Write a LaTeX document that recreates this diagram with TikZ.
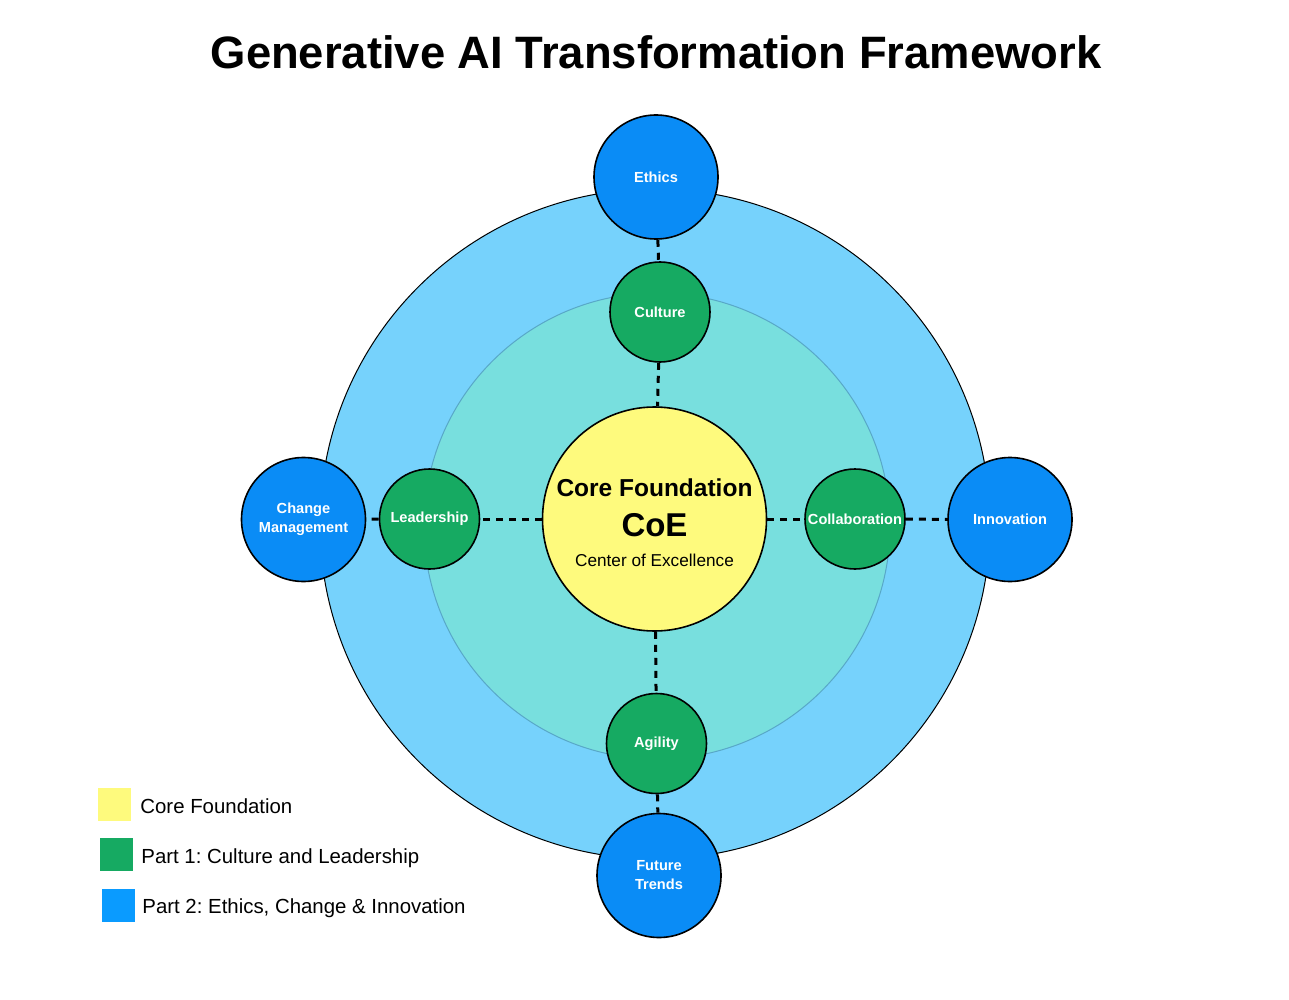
\documentclass[tikz,border=0pt]{standalone}
\usepackage{fontspec}
\setmainfont{Liberation Sans}
\frenchspacing
\definecolor{ringblue}{RGB}{118,210,252}
\definecolor{ringteal}{RGB}{120,223,222}
\definecolor{tealedge}{RGB}{88,168,200}
\definecolor{coreyellow}{RGB}{254,250,125}
\definecolor{partgreen}{RGB}{22,170,98}
\definecolor{partblue}{RGB}{10,140,246}
\definecolor{legendblue}{RGB}{10,155,255}
\begin{document}
\begin{tikzpicture}[x=0.5pt,y=-0.5pt,
  partone/.style={circle,draw=black,line width=0.8pt,fill=partgreen,minimum size=50pt,inner sep=0pt,
    text=white,align=center,font=\fontsize{7.3}{9.5}\selectfont\bfseries},
  parttwo/.style={partone,fill=partblue,minimum size=62pt},
  link/.style={line width=1.5pt,dash pattern=on 3.5pt off 3pt},
  swatch/.style={minimum size=16.5pt,inner sep=0pt},
  legendtext/.style={anchor=base west,inner sep=0pt,font=\fontsize{10.2}{12}\selectfont}]
\useasboundingbox (0,0) rectangle (1289,1000);
\node (title) at (656,52) {\fontsize{22.7}{27}\selectfont\bfseries Generative AI Transformation Framework};
% rings
\draw[line width=0.5pt,fill=ringblue] (655,524) circle[radius=167.5pt];
\draw[line width=0.5pt,draw=tealedge,fill=ringteal] (657,526) circle[radius=116.5pt];
% core
\node[circle,draw=black,line width=0.8pt,fill=coreyellow,minimum size=112pt,inner sep=0pt] (core) at (654.5,519) {};
\node[font=\fontsize{12.25}{14}\selectfont\bfseries] (corename) at (654.5,488) {Core Foundation};
\node[font=\fontsize{16.5}{19}\selectfont\bfseries] (coe) at (654.5,525) {CoE};
\node[font=\fontsize{8.6}{10}\selectfont] (coefull) at (654.5,560) {Center of Excellence};
% part 1
\node[partone] (culture) at (660,312) {Culture};
\node[partone] (leadership) at (429.5,519) {Leadership};
\node[partone] (collaboration) at (855,519) {Collaboration};
\node[partone] (agility) at (656.5,743.5) {Agility};
% part 2
\node[parttwo] (ethics) at (656,177) {Ethics};
\node[parttwo] (change) at (303.5,519.5) {Change\\Management};
\node[parttwo] (innovation) at (1010,519.5) {Innovation};
\node[parttwo] (future) at (659,875.5) {Future\\Trends};
% links
\draw[link] (ethics) -- (culture);
\draw[link] (culture) -- (core);
\draw[link] (core) -- (agility);
\draw[link] (agility) -- (future);
\draw[link] (core) -- (leadership);
\draw[link] (leadership) -- (change);
\draw[link] (core) -- (collaboration);
\draw[link] (collaboration) -- (innovation);
% legend
\node[swatch,fill=coreyellow] (keycore) at (114.5,804) {};
\node[swatch,fill=partgreen] (keyone) at (116.5,854.5) {};
\node[swatch,fill=legendblue] (keytwo) at (118,905.5) {};
\node[legendtext] (keycoretext) at (140,813) {Core Foundation};
\node[legendtext] (keyonetext) at (141,863) {Part 1: Culture and Leadership};
\node[legendtext] (keytwotext) at (142,913) {Part 2: Ethics, Change \& Innovation};
\end{tikzpicture}
\end{document}
